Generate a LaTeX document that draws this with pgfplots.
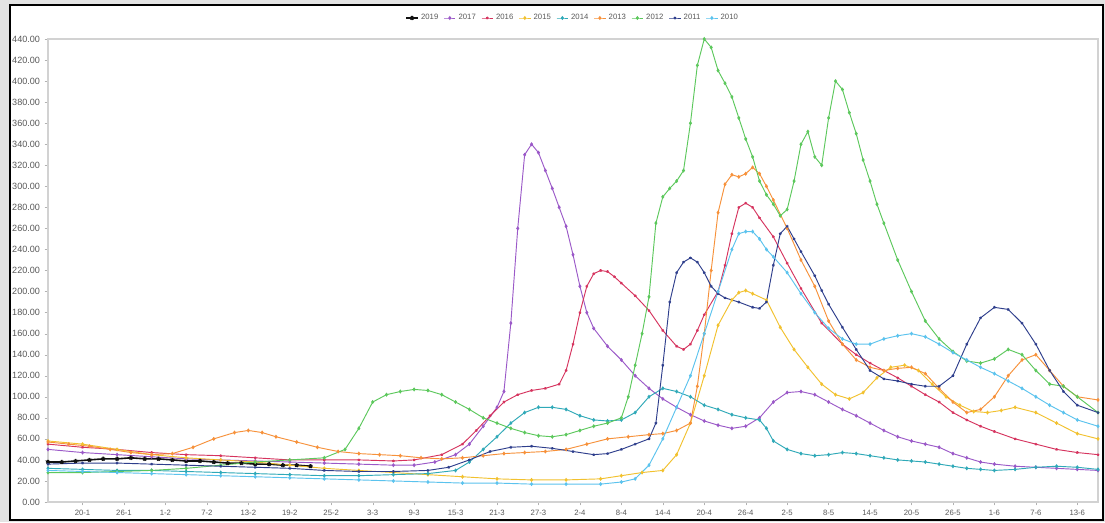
\documentclass[border=0pt]{standalone}
\usepackage{fontspec}
\setmainfont{Liberation Sans}
\usepackage{pgfplots}
\pgfplotsset{compat=1.18}
\definecolor{c19}{HTML}{111111}
\definecolor{c17}{HTML}{9B59C8}
\definecolor{c16}{HTML}{D6335E}
\definecolor{c15}{HTML}{F2C12E}
\definecolor{c14}{HTML}{2FA9B8}
\definecolor{c13}{HTML}{F7913A}
\definecolor{c12}{HTML}{5CC85C}
\definecolor{c11}{HTML}{2E3E8C}
\definecolor{c10}{HTML}{5BC3EE}
\begin{document}
\begin{tikzpicture}
\useasboundingbox (0,0) rectangle (828.75pt,391.5pt);
\fill[gray!22] (0,0) rectangle (828.75pt,391.5pt);
\draw[fill=white,line width=1.4pt] (7.5pt,1.5pt) rectangle (827.25pt,387.75pt);
\begin{axis}[
  at={(36pt,15pt)}, anchor=south west,
  scale only axis, width=787.5pt, height=347.25pt,
  xmin=15, xmax=167, ymin=0, ymax=440,
  xtick={20,26,...,164},
  xticklabels={20-1,26-1,1-2,7-2,13-2,19-2,25-2,3-3,9-3,15-3,21-3,27-3,2-4,8-4,14-4,20-4,26-4,2-5,8-5,14-5,20-5,26-5,1-6,7-6,13-6},
  ytick={0,20,...,440},
  /pgf/number format/fixed, /pgf/number format/fixed zerofill,
  /pgf/number format/precision=2, /pgf/number format/assume math mode=true,
  x tick label style={font=\fontsize{5.8}{7}\selectfont, text=black!65},
  y tick label style={font=\fontsize{6.8}{8}\selectfont, text=black!65},
  tick align=outside, major tick length=2.5pt,
  tick style={gray!60},
  xtick pos=bottom, ytick pos=left,
  axis line style={gray!35, line width=0.8pt},
  legend columns=9,
  legend style={draw=none, fill=none, at={(0.5,1)}, anchor=center, yshift=15.75pt,
    font=\fontsize{5.8}{7}\selectfont, text=black!65,
    /tikz/every even column/.append style={column sep=2pt}},
  legend image code/.code={\draw[mark repeat=2,mark phase=2] plot coordinates {(0cm,0cm) (0.15cm,0cm) (0.3cm,0cm)};},
  every axis plot/.append style={line width=0.7pt, mark size=1pt},
]
% 2019
\addplot[c19, line width=1.2pt, mark=star, mark size=1.6pt] coordinates {
(15,38)(17,38)(19,39)(21,40)(23,41)(25,41)(27,42)(29,41)(31,41)(33,40)(35,39)(37,39)(39,38)(41,37)(43,37)(45,36)(47,36)(49,35)(51,35)(53,34)};
\addlegendentry{2019}
% 2017
\addplot[c17, mark=diamond*] coordinates {
(15,50)(20,47)(25,45)(30,43)(35,41)(40,40)(45,39)(50,38)(55,37)(60,36)(65,35)(68,35)(71,38)(74,45)(76,55)(78,72)(80,90)(81,105)(82,170)(83,260)(84,330)(85,340)(86,332)(87,315)(88,298)(89,280)(90,262)(91,235)(92,205)(93,180)(94,165)(96,148)(98,135)(100,120)(102,108)(104,98)(106,90)(108,83)(110,77)(112,73)(114,70)(116,72)(118,80)(120,95)(122,104)(124,105)(126,102)(128,95)(130,88)(132,82)(134,75)(136,68)(138,62)(140,58)(142,55)(144,52)(146,46)(148,42)(150,38)(152,36)(155,34)(158,33)(161,32)(164,31)(167,30)};
\addlegendentry{2017}
% 2016
\addplot[c16, mark=star] coordinates {
(15,55)(20,52)(25,50)(30,47)(35,45)(40,44)(45,42)(50,40)(55,40)(60,40)(65,39)(68,40)(72,45)(75,55)(77,68)(79,82)(81,95)(83,102)(85,106)(87,108)(89,112)(90,125)(91,150)(92,180)(93,205)(94,217)(95,220)(96,219)(97,214)(98,208)(100,196)(102,182)(104,163)(106,148)(107,145)(108,150)(109,163)(110,178)(112,200)(113,225)(114,255)(115,280)(116,284)(117,280)(118,270)(120,252)(122,227)(124,203)(127,170)(130,150)(132,140)(134,132)(136,125)(138,118)(140,110)(142,102)(144,95)(146,85)(148,78)(150,72)(152,67)(155,60)(158,55)(161,50)(164,47)(167,45)};
\addlegendentry{2016}
% 2015
\addplot[c15, mark=diamond*] coordinates {
(15,58)(20,55)(25,50)(30,45)(35,42)(40,40)(45,38)(50,35)(55,32)(60,30)(65,28)(70,26)(75,24)(80,22)(85,21)(90,21)(95,22)(98,25)(101,28)(104,30)(106,45)(108,75)(110,120)(112,168)(114,192)(115,199)(116,201)(117,198)(119,192)(121,166)(123,145)(125,128)(127,112)(129,102)(131,98)(133,104)(135,118)(137,128)(139,130)(141,125)(143,112)(145,100)(147,92)(149,86)(151,85)(153,87)(155,90)(158,85)(161,75)(164,65)(167,60)};
\addlegendentry{2015}
% 2014
\addplot[c14, mark=diamond*] coordinates {
(15,32)(20,31)(25,30)(30,30)(35,29)(40,28)(45,27)(50,26)(55,25)(60,25)(65,26)(70,27)(74,30)(76,38)(78,50)(80,62)(82,75)(84,85)(86,90)(88,90)(90,88)(92,82)(94,78)(96,77)(98,78)(100,85)(102,100)(104,108)(106,105)(108,100)(110,92)(112,88)(114,83)(116,80)(118,78)(119,70)(120,58)(122,50)(124,46)(126,44)(128,45)(130,47)(132,46)(134,44)(136,42)(138,40)(140,39)(142,38)(144,36)(146,34)(148,32)(150,31)(152,30)(155,31)(158,33)(161,34)(164,33)(167,31)};
\addlegendentry{2014}
% 2013
\addplot[c13, mark=diamond*] coordinates {
(15,57)(18,55)(21,53)(24,50)(27,47)(30,45)(33,46)(36,52)(39,60)(42,66)(44,68)(46,66)(48,62)(51,57)(54,52)(57,48)(60,46)(63,45)(66,44)(69,42)(72,41)(75,42)(78,44)(81,46)(84,47)(87,48)(90,50)(93,55)(96,60)(99,62)(102,64)(104,65)(106,68)(108,75)(109,110)(110,160)(111,220)(112,275)(113,302)(114,311)(115,309)(116,312)(117,318)(118,312)(119,300)(120,287)(122,260)(124,230)(126,205)(128,172)(130,150)(132,135)(134,128)(136,125)(138,127)(140,128)(142,122)(144,108)(146,95)(148,85)(150,88)(152,100)(154,120)(156,135)(158,140)(160,125)(162,110)(164,100)(167,97)};
\addlegendentry{2013}
% 2012
\addplot[c12, mark=diamond*] coordinates {
(15,28)(20,28)(25,29)(30,30)(35,32)(40,35)(45,38)(50,40)(55,42)(58,50)(60,70)(62,95)(64,102)(66,105)(68,107)(70,106)(72,102)(74,95)(76,88)(78,80)(80,75)(82,70)(84,66)(86,63)(88,62)(90,64)(92,68)(94,72)(96,75)(98,80)(99,100)(100,130)(101,160)(102,195)(103,265)(104,290)(105,298)(106,305)(107,315)(108,360)(109,415)(110,440)(111,432)(112,410)(113,398)(114,385)(115,365)(116,345)(117,328)(118,305)(119,292)(120,283)(121,272)(122,278)(123,305)(124,340)(125,352)(126,328)(127,320)(128,365)(129,400)(130,392)(131,370)(132,350)(133,325)(134,305)(135,283)(136,265)(138,230)(140,200)(142,172)(144,155)(146,143)(148,134)(150,132)(152,136)(154,145)(156,140)(158,125)(160,112)(162,110)(164,100)(167,85)};
\addlegendentry{2012}
% 2011
\addplot[c11, mark=star] coordinates {
(15,36)(20,37)(25,37)(30,36)(35,35)(40,34)(45,33)(50,32)(55,30)(60,29)(65,29)(70,30)(73,33)(76,40)(79,48)(82,52)(85,53)(88,51)(91,48)(94,45)(96,46)(98,50)(100,55)(102,60)(103,75)(104,130)(105,190)(106,218)(107,228)(108,232)(109,228)(110,218)(111,205)(112,198)(113,194)(115,190)(117,185)(118,184)(119,190)(120,225)(121,255)(122,262)(123,250)(124,238)(126,215)(127,201)(128,188)(130,166)(132,145)(134,125)(136,117)(138,115)(140,112)(142,110)(144,110)(146,120)(148,150)(150,175)(152,185)(154,183)(156,170)(158,150)(160,125)(162,105)(164,92)(167,85)};
\addlegendentry{2011}
% 2010
\addplot[c10, mark=diamond*] coordinates {
(15,30)(20,29)(25,28)(30,27)(35,26)(40,25)(45,24)(50,23)(55,22)(60,21)(65,20)(70,19)(75,18)(80,18)(85,17)(90,17)(95,17)(98,19)(100,22)(102,35)(104,60)(106,90)(108,120)(110,160)(112,200)(114,240)(115,255)(116,257)(117,257)(118,250)(119,240)(120,233)(122,218)(124,198)(126,180)(128,165)(130,155)(132,150)(134,150)(136,155)(138,158)(140,160)(142,157)(144,150)(146,142)(148,135)(150,128)(152,122)(154,115)(156,108)(158,100)(160,92)(162,85)(164,78)(167,72)};
\addlegendentry{2010}
\end{axis}
\end{tikzpicture}
\end{document}
